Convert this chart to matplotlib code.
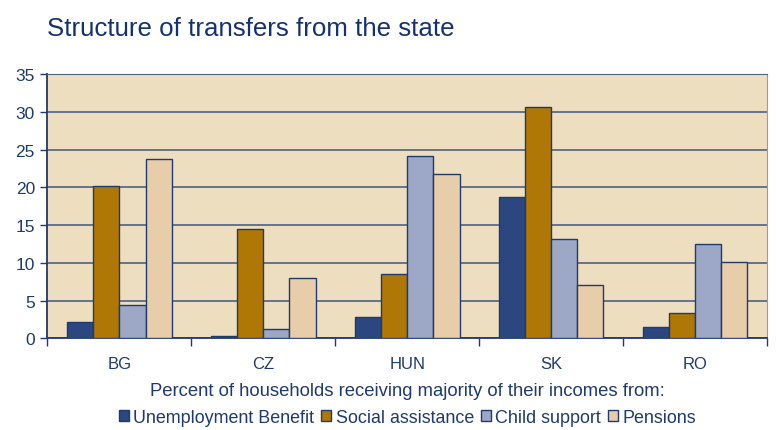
import matplotlib.pyplot as plt
import numpy as np
from matplotlib.patches import Patch

plt.rcParams['font.family'] = ['Liberation Sans', 'DejaVu Sans']

countries = ['BG', 'CZ', 'HUN', 'SK', 'RO']
series = ['Unemployment Benefit', 'Social assistance', 'Child support', 'Pensions']
unemployment = [2.2, 0.35, 2.8, 18.7, 1.45]
social = [20.2, 14.5, 8.5, 30.6, 3.3]
child = [4.4, 1.25, 24.1, 13.2, 12.5]
pensions = [23.7, 8.0, 21.8, 7.1, 10.1]
values = [unemployment, social, child, pensions]
colors = ['#2C4680', '#AE7706', '#9DA7C6', '#E7CDA9']

navy = '#1F3A6E'
fig = plt.figure(figsize=(7.76, 4.31), dpi=100)
ax = fig.add_axes([0.0612, 0.2127, 0.927, 0.613])
ax.set_facecolor('#EEDEC0')

x = np.arange(len(countries))
w = 0.182
for i, (vals, c) in enumerate(zip(values, colors)):
    ax.bar(x + (i - 1.5) * w, vals, w, color=c, edgecolor=navy, linewidth=1, zorder=3)

ax.set_xlim(-0.5, len(countries) - 0.5)
ax.set_ylim(0, 35)
ax.set_yticks(range(0, 36, 5))
ax.yaxis.grid(True, color='#4C6283', linewidth=1.2, zorder=0)
ax.set_axisbelow(True)

ax.set_xticks(x)
ax.set_xticklabels(countries, fontsize=12, color=navy)
ax.tick_params(axis='x', length=0, pad=13)
ax.set_xticks(np.arange(-0.5, len(countries), 1), minor=True)
ax.tick_params(axis='x', which='minor', length=6, color=navy, width=1)
ax.tick_params(axis='y', labelsize=12.5, labelcolor=navy, color=navy, length=5, width=1, pad=4)

for s in ['left', 'bottom']:
    ax.spines[s].set_color(navy)
    ax.spines[s].set_linewidth(1.3)
ax.spines['top'].set_color('#4C6283')
ax.spines['right'].set_color('#8E9CC0')

ax.set_xlabel('Percent of households receiving majority of their incomes from:',
              fontsize=13.3, color=navy, labelpad=8)

handles = [Patch(facecolor=c, edgecolor=navy, linewidth=1) for c in colors]
leg = fig.legend(handles, series, loc='center', bbox_to_anchor=(0.525, 0.03), ncol=4,
                 frameon=False, fontsize=12.9, handlelength=0.55, handleheight=0.55,
                 handletextpad=0.25, columnspacing=0.4)
for t in leg.get_texts():
    t.set_color(navy)

fig.text(0.06, 0.933, 'Structure of transfers from the state', fontsize=18.6, color='#143272',
         va='center', ha='left')

fig.savefig('out.png', dpi=100)
